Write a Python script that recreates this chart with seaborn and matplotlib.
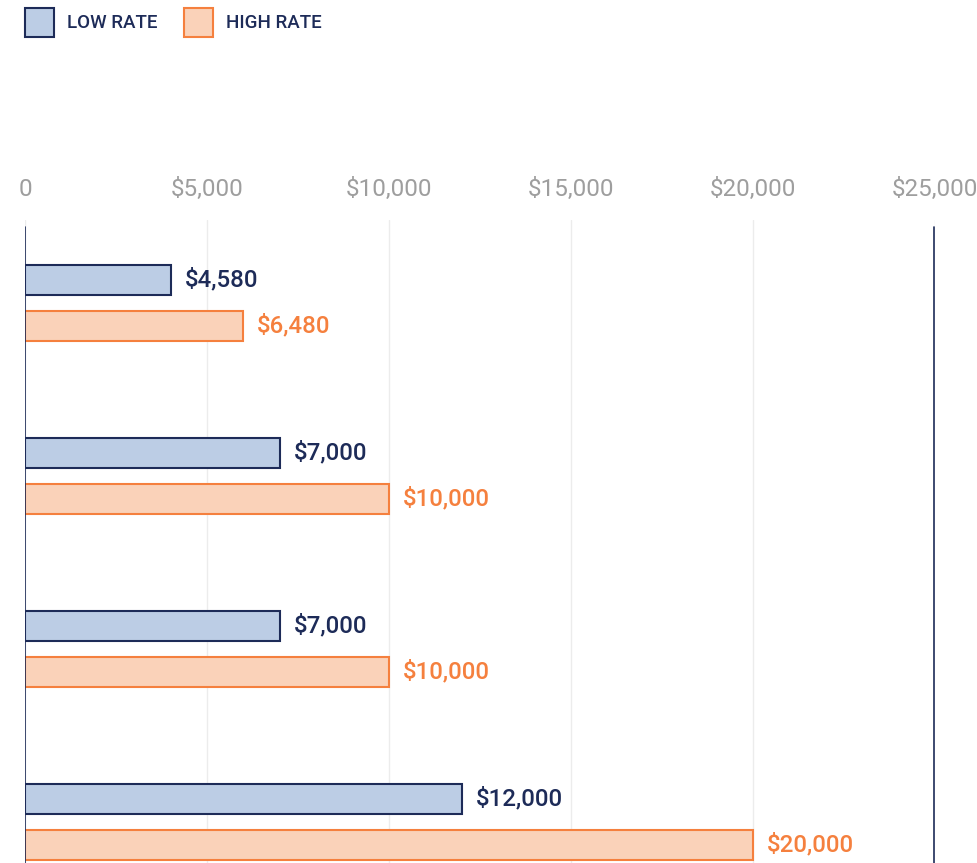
import matplotlib
matplotlib.use("Agg")
import matplotlib.pyplot as plt
from matplotlib.patches import Patch
import pandas as pd
import seaborn as sns

# Data
groups = ["Tier 1", "Tier 2", "Tier 3", "Tier 4"]
low_rate = [4000, 7000, 7000, 12000]
high_rate = [6000, 10000, 10000, 20000]
low_labels = ["$4,580", "$7,000", "$7,000", "$12,000"]
high_labels = ["$6,480", "$10,000", "$10,000", "$20,000"]
x_ticks = [0, 5000, 10000, 15000, 20000, 25000]
x_tick_labels = ["0", "$5,000", "$10,000", "$15,000", "$20,000", "$25,000"]

NAVY = "#1d2b58"
ORANGE = "#f5803e"
LOW_FILL = "#bccde5"
HIGH_FILL = "#fad2b9"

sns.set_theme(style="white")
plt.rcParams["font.family"] = ["Roboto", "DejaVu Sans"]

df = pd.DataFrame({
    "group": groups * 2,
    "rate": ["LOW RATE"] * len(groups) + ["HIGH RATE"] * len(groups),
    "value": low_rate + high_rate,
})

W, H = 978, 863
fig = plt.figure(figsize=(W / 100, H / 100), dpi=100)
ax = fig.add_axes([25 / W, 0, 910 / W, 643 / H])

sns.barplot(
    data=df, y="group", x="value", hue="rate", orient="h",
    palette={"LOW RATE": LOW_FILL, "HIGH RATE": HIGH_FILL}, saturation=1,
    width=0.532, gap=0.35, legend=False, ax=ax, errorbar=None,
)

edges = [NAVY, ORANGE]
label_colors = [NAVY, ORANGE]
texts = [low_labels, high_labels]
for cont, ec, lc, lab in zip(ax.containers, edges, label_colors, texts):
    for bar in cont:
        bar.set_edgecolor(ec)
        bar.set_linewidth(1.5)
    ax.bar_label(cont, labels=lab, padding=10, color=lc, fontsize=17.3,
                 fontweight="medium")

ax.set_xlim(0, 25000)
ax.set_ylim(3.237, -0.480)
ax.set_xlabel("")
ax.set_ylabel("")
ax.set_yticks([])
ax.xaxis.tick_top()
ax.set_xticks(x_ticks)
ax.set_xticklabels(x_tick_labels)
ax.tick_params(axis="x", length=0, pad=13.5, labelsize=17.5, labelcolor="#9e9e9e")
ax.grid(axis="x", color="#ececec", linewidth=1)
ax.set_axisbelow(True)
for s in ax.spines.values():
    s.set_visible(False)
ax.axvline(0, ymax=1 - 7 / 643, color=NAVY, linewidth=1.2)
ax.axvline(24960, ymax=1 - 7 / 643, color=NAVY, linewidth=1.2)

handles = [
    Patch(facecolor=LOW_FILL, edgecolor=NAVY, linewidth=1.5, label="LOW RATE"),
    Patch(facecolor=HIGH_FILL, edgecolor=ORANGE, linewidth=1.5, label="HIGH RATE"),
]
fig.legend(
    handles=handles, loc="upper left", bbox_to_anchor=(25 / W, 1 - 8 / H),
    ncol=2, frameon=False, borderaxespad=0, borderpad=0,
    handlelength=1.55, handleheight=2.0, handletextpad=0.69,
    columnspacing=1.39, prop={"size": 13.5, "weight": "medium"},
    labelcolor=NAVY,
)

fig.savefig("out.png", dpi=100)
